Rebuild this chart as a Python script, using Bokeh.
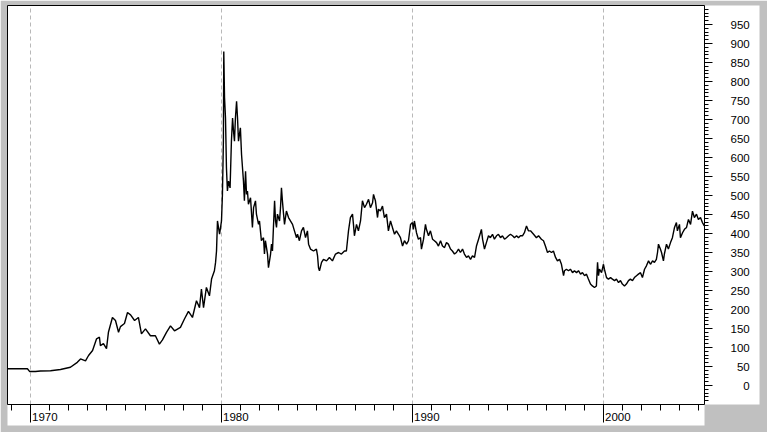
from bokeh.plotting import figure
from bokeh.models import Range1d, FixedTicker
from bokeh.embed import file_html
from bokeh.resources import INLINE

# ---- data (decimal year, price) ----
years = [
    1968.80, 1969.84, 1969.95, 1970.26, 1970.52, 1971.05, 1971.57, 1972.09, 1972.45, 1972.62,
    1972.88, 1973.04, 1973.25, 1973.46, 1973.61, 1973.66, 1973.82, 1973.98, 1974.08, 1974.29,
    1974.45, 1974.61, 1974.71, 1974.92, 1975.08, 1975.24, 1975.45, 1975.65, 1975.81, 1976.02,
    1976.28, 1976.54, 1976.75, 1976.91, 1977.12, 1977.33, 1977.54, 1977.85, 1978.06, 1978.27,
    1978.48, 1978.69, 1978.85, 1978.95, 1979.06, 1979.21, 1979.37, 1979.48, 1979.63, 1979.69,
    1979.74, 1979.79, 1979.90, 1980.00, 1980.05, 1980.10, 1980.12, 1980.16, 1980.21, 1980.26,
    1980.31, 1980.37, 1980.45, 1980.52, 1980.58, 1980.63, 1980.68, 1980.73, 1980.79, 1980.84,
    1980.89, 1980.99, 1981.05, 1981.10, 1981.15, 1981.20, 1981.26, 1981.31, 1981.36, 1981.41,
    1981.52, 1981.62, 1981.68, 1981.78, 1981.83, 1981.94, 1981.99, 1982.04, 1982.09, 1982.20,
    1982.25, 1982.30, 1982.41, 1982.46, 1982.57, 1982.62, 1982.67, 1982.72, 1982.78, 1982.83,
    1982.88, 1982.93, 1983.04, 1983.09, 1983.14, 1983.19, 1983.25, 1983.30, 1983.40, 1983.51,
    1983.61, 1983.72, 1983.82, 1983.93, 1983.98, 1984.08, 1984.19, 1984.29, 1984.40, 1984.50,
    1984.56, 1984.66, 1984.82, 1984.97, 1985.03, 1985.08, 1985.13, 1985.24, 1985.34, 1985.50,
    1985.65, 1985.81, 1985.97, 1986.13, 1986.28, 1986.44, 1986.54, 1986.65, 1986.75, 1986.86,
    1986.91, 1986.96, 1987.07, 1987.17, 1987.28, 1987.38, 1987.49, 1987.59, 1987.70, 1987.80,
    1987.91, 1987.96, 1988.01, 1988.06, 1988.17, 1988.22, 1988.32, 1988.43, 1988.53, 1988.64,
    1988.74, 1988.85, 1988.95, 1989.06, 1989.16, 1989.27, 1989.37, 1989.48, 1989.58, 1989.69,
    1989.79, 1989.90, 1990.00, 1990.05, 1990.10, 1990.21, 1990.31, 1990.42, 1990.47, 1990.58,
    1990.68, 1990.73, 1990.84, 1990.94, 1991.05, 1991.15, 1991.26, 1991.36, 1991.47, 1991.57,
    1991.68, 1991.78, 1991.88, 1991.99, 1992.09, 1992.20, 1992.30, 1992.41, 1992.51, 1992.62,
    1992.72, 1992.83, 1992.93, 1993.04, 1993.14, 1993.25, 1993.35, 1993.46, 1993.56, 1993.61,
    1993.67, 1993.77, 1993.87, 1993.98, 1994.08, 1994.19, 1994.29, 1994.40, 1994.50, 1994.61,
    1994.71, 1994.82, 1994.92, 1995.03, 1995.13, 1995.24, 1995.34, 1995.45, 1995.55, 1995.65,
    1995.76, 1995.86, 1995.97, 1996.07, 1996.18, 1996.34, 1996.49, 1996.60, 1996.75, 1996.86,
    1996.96, 1997.07, 1997.17, 1997.28, 1997.38, 1997.49, 1997.59, 1997.70, 1997.80, 1997.91,
    1997.96, 1998.06, 1998.17, 1998.27, 1998.38, 1998.48, 1998.59, 1998.69, 1998.80, 1998.90,
    1999.01, 1999.11, 1999.21, 1999.32, 1999.42, 1999.53, 1999.63, 1999.69, 1999.74, 1999.79,
    1999.90, 2000.00, 2000.05, 2000.16, 2000.26, 2000.37, 2000.47, 2000.58, 2000.68, 2000.79,
    2000.89, 2000.99, 2001.10, 2001.20, 2001.31, 2001.41, 2001.52, 2001.62, 2001.73, 2001.83,
    2001.94, 2002.04, 2002.15, 2002.25, 2002.36, 2002.46, 2002.57, 2002.67, 2002.77, 2002.83,
    2002.88, 2002.98, 2003.04, 2003.14, 2003.19, 2003.30, 2003.40, 2003.51, 2003.61, 2003.72,
    2003.82, 2003.87, 2003.98, 2004.03, 2004.14, 2004.24, 2004.35, 2004.45, 2004.56, 2004.66,
    2004.76, 2004.87, 2004.97, 2005.08, 2005.18, 2005.28,
]
prices = [
    44, 44, 37, 37, 38, 39, 42, 48, 61, 70,
    65, 79, 92, 123, 127, 105, 110, 97, 140, 179,
    171, 140, 155, 163, 192, 186, 171, 179, 136, 149,
    131, 131, 109, 120, 140, 157, 144, 153, 175, 195,
    179, 223, 205, 254, 205, 258, 236, 280, 302, 324,
    354, 433, 398, 433, 503, 643, 879, 757, 704, 573,
    512, 538, 520, 643, 704, 669, 643, 704, 748, 704,
    643, 678, 608, 573, 538, 486, 564, 503, 512, 477,
    494, 416, 468, 486, 451, 424, 433, 407, 381, 389,
    346, 381, 346, 310, 346, 372, 354, 416, 486, 433,
    416, 451, 433, 468, 520, 486, 451, 424, 459, 442,
    433, 424, 407, 389, 398, 381, 407, 416, 389, 407,
    372, 359, 354, 359, 341, 310, 302, 324, 332, 328,
    337, 328, 346, 350, 346, 354, 354, 407, 442, 451,
    424, 394, 424, 407, 433, 486, 468, 477, 490, 468,
    481, 503, 494, 486, 442, 464, 459, 472, 442, 451,
    407, 433, 416, 398, 407, 398, 389, 367, 381, 372,
    381, 424, 429, 411, 433, 402, 385, 389, 359, 385,
    424, 411, 394, 407, 385, 381, 376, 367, 381, 367,
    363, 376, 372, 359, 354, 346, 350, 359, 350, 359,
    346, 337, 341, 332, 341, 337, 367, 385, 402, 411,
    385, 359, 376, 394, 389, 398, 385, 394, 398, 389,
    394, 385, 389, 394, 398, 394, 389, 394, 389, 394,
    394, 402, 420, 407, 407, 398, 389, 394, 385, 381,
    367, 350, 354, 350, 354, 337, 328, 332, 319, 289,
    302, 306, 302, 306, 297, 302, 297, 302, 293, 297,
    289, 293, 280, 267, 262, 258, 262, 324, 289, 306,
    297, 319, 306, 284, 280, 284, 280, 276, 280, 271,
    276, 267, 262, 267, 276, 280, 276, 284, 289, 293,
    297, 284, 306, 315, 328, 319, 328, 324, 332, 350,
    372, 359, 350, 328, 346, 372, 359, 376, 389, 416,
    429, 407, 424, 389, 402, 411, 416, 437, 424, 459,
    442, 451, 437, 442, 429, 420,
]

decade_ticks = [1970, 1980, 1990, 2000]
year_ticks = list(range(1969, 2006))
price_ticks = list(range(0, 1000, 50))
price_minor_ticks = list(range(-40, 1000, 10))

FONT = "Liberation Sans"
FSIZE = "11.5px"
PAD = "\u00a0\u00a0"  # two no-break spaces ~ one digit width

p = figure(
    width=767, height=432,
    output_backend="svg", toolbar_location=None,
    x_range=Range1d(1968.796, 2005.29), y_range=Range1d(-50, 1000),
    x_axis_location="below", y_axis_location="right",
    min_border_left=7, min_border_top=5, min_border_right=63, min_border_bottom=28,
    border_fill_color="#c0c0c0", background_fill_color="white",
    outline_line_color="black", outline_line_width=1,
)

p.line(years, prices, line_color="black", line_width=1.4)

xa = p.xaxis[0]
xa.ticker = FixedTicker(ticks=decade_ticks, minor_ticks=year_ticks)
xa.axis_line_color = "black"
xa.major_tick_line_color = "black"
xa.minor_tick_line_color = "black"
xa.major_tick_in = 0
xa.major_tick_out = 18
xa.minor_tick_in = 0
xa.minor_tick_out = 6
xa.major_label_standoff = -12
xa.major_label_overrides = {d: PAD * 4 + "\u00a0" + str(d) for d in decade_ticks}
xa.major_label_text_font = FONT
xa.major_label_text_font_size = FSIZE
xa.major_label_text_color = "black"

ya = p.yaxis[0]
ya.ticker = FixedTicker(ticks=price_ticks, minor_ticks=price_minor_ticks)
ya.axis_line_color = "black"
ya.major_tick_line_color = "black"
ya.minor_tick_line_color = "black"
ya.major_tick_in = 0
ya.major_tick_out = 8
ya.minor_tick_in = 0
ya.minor_tick_out = 4
ya.major_label_standoff = 18
ya.major_label_overrides = {v: PAD * (3 - len(str(v))) + str(v) + PAD for v in price_ticks}
ya.major_label_text_font = FONT
ya.major_label_text_font_size = FSIZE
ya.major_label_text_color = "black"

for ax in (xa, ya):
    try:
        ax.background_fill_color = "white"
    except AttributeError:
        pass

p.xgrid.ticker = FixedTicker(ticks=decade_ticks)
p.xgrid.grid_line_color = "#b8b8b8"
p.xgrid.grid_line_dash = "4 3"
p.ygrid.visible = False

open("out.html", "w").write(file_html(p, INLINE))
